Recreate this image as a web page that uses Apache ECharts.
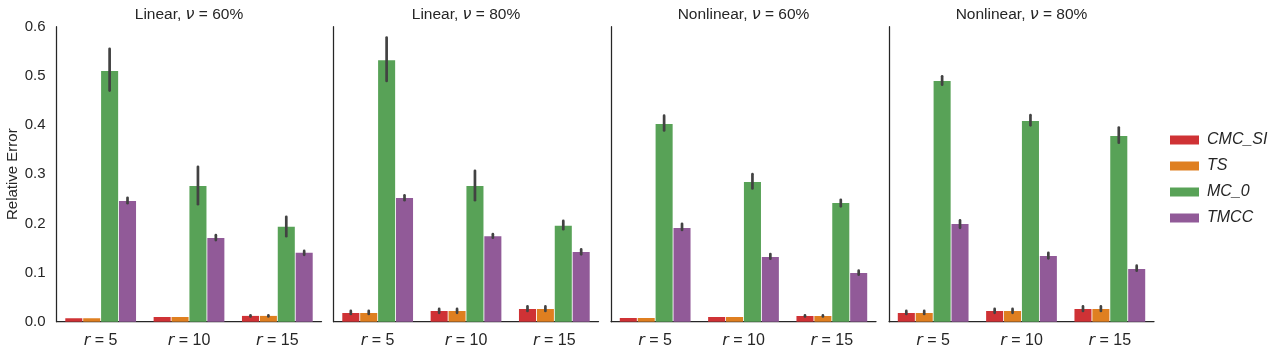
<!DOCTYPE html>
<html>
<head>
<meta charset="utf-8">
<script src="https://cdn.jsdelivr.net/npm/echarts@6/dist/echarts.min.js"></script>
<style>
  html, body { margin: 0; padding: 0; background: #fff; }
  #chart { width: 1276px; height: 355px; }
</style>
</head>
<body>
<div id="chart"></div>
<script>
// categories and methods
const categories = ["5", "10", "15"];
const methods = ["CMC_SI", "TS", "MC_0", "TMCC"];
const colors = ["#cf3235", "#df7f20", "#58a257", "#915a98"];
const yTicks = [0, 0.1, 0.2, 0.3, 0.4, 0.5, 0.6];

// rows = methods (CMC_SI, TS, MC_0, TMCC), cols = r = 5, 10, 15
const lin60Mean = [[0.007, 0.0096, 0.0118], [0.007, 0.0096, 0.0118], [0.510, 0.276, 0.193], [0.2455, 0.170, 0.140]];
const lin60Lo   = [[0.007, 0.0096, 0.0108], [0.007, 0.0096, 0.0108], [0.470, 0.239, 0.174], [0.241, 0.166, 0.136]];
const lin60Hi   = [[0.007, 0.0096, 0.0130], [0.007, 0.0096, 0.0130], [0.555, 0.315, 0.2135], [0.252, 0.176, 0.144]];

const lin80Mean = [[0.0177, 0.0218, 0.0258], [0.0177, 0.0218, 0.0258], [0.532, 0.276, 0.195], [0.2516, 0.174, 0.1418]];
const lin80Lo   = [[0.0157, 0.018, 0.022], [0.0157, 0.018, 0.022], [0.4896, 0.247, 0.188], [0.247, 0.171, 0.137]];
const lin80Hi   = [[0.022, 0.026, 0.031], [0.022, 0.026, 0.031], [0.578, 0.307, 0.205], [0.257, 0.178, 0.147]];

const non60Mean = [[0.0075, 0.0096, 0.0116], [0.0075, 0.0096, 0.0116], [0.402, 0.284, 0.2414], [0.1906, 0.1316, 0.099]];
const non60Lo   = [[0.0075, 0.0096, 0.0106], [0.0075, 0.0096, 0.0106], [0.389, 0.271, 0.2347], [0.1865, 0.128, 0.0956]];
const non60Hi   = [[0.0075, 0.0096, 0.0128], [0.0075, 0.0096, 0.0128], [0.419, 0.300, 0.248], [0.199, 0.1377, 0.1037]];

const non80Mean = [[0.0177, 0.0218, 0.0258], [0.0177, 0.0218, 0.0258], [0.4896, 0.408, 0.3777], [0.1987, 0.1336, 0.107]];
const non80Lo   = [[0.0157, 0.018, 0.022], [0.0157, 0.018, 0.022], [0.482, 0.3995, 0.364], [0.191, 0.129, 0.1037]];
const non80Hi   = [[0.022, 0.026, 0.031], [0.022, 0.026, 0.031], [0.499, 0.420, 0.395], [0.206, 0.140, 0.114]];

const panels = [
  { model: "Linear", nu: "60%", mean: lin60Mean, lo: lin60Lo, hi: lin60Hi },
  { model: "Linear", nu: "80%", mean: lin80Mean, lo: lin80Lo, hi: lin80Hi },
  { model: "Nonlinear", nu: "60%", mean: non60Mean, lo: non60Lo, hi: non60Hi },
  { model: "Nonlinear", nu: "80%", mean: non80Mean, lo: non80Lo, hi: non80Hi }
];

const gridLeft = [56.5, 333.5, 611, 889];
const gridW = 265;
const gridTop = 26.7;
const gridH = 295;
const barW = 0.193;   // share of a category band
const barGap = 0.05;  // share of a bar width
const ink = "#262626";
const font = "'Liberation Sans', Arial, sans-serif";

const chart = echarts.init(document.getElementById("chart"), null, { renderer: "canvas" });

const grids = [], xAxes = [], yAxes = [], titles = [], series = [];

panels.forEach((p, i) => {
  grids.push({ left: gridLeft[i], top: gridTop, width: gridW, height: gridH });
  titles.push({
    text: "{n|" + p.model + ", }{v|ν}{n| = " + p.nu + "}",
    left: gridLeft[i] + gridW / 2,
    top: 7,
    padding: 0,
    textAlign: "center",
    textStyle: {
      fontWeight: "normal",
      rich: {
        n: { fontFamily: font, fontSize: 15.5, fontWeight: "normal", color: ink },
        v: { fontFamily: "DejaVu Sans", fontStyle: "italic", fontWeight: "normal", fontSize: 16, color: ink }
      }
    }
  });
  xAxes.push({
    type: "category",
    gridIndex: i,
    data: categories,
    axisLine: { lineStyle: { color: ink, width: 1.25 } },
    axisTick: { show: false },
    axisLabel: {
      margin: 11,
      formatter: v => "{i|r}{n| = " + v + "}",
      rich: {
        i: { fontFamily: "DejaVu Sans", fontStyle: "italic", fontSize: 16, color: ink },
        n: { fontFamily: font, fontSize: 16, color: ink }
      }
    }
  });
  yAxes.push({
    type: "value",
    gridIndex: i,
    min: 0,
    max: 0.6,
    interval: 0.1,
    splitLine: { show: false },
    axisLine: { show: true, lineStyle: { color: ink, width: 1.25 } },
    axisTick: { show: false },
    axisLabel: {
      show: i === 0,
      margin: 11,
      fontFamily: font,
      fontSize: 15,
      color: ink,
      formatter: v => v.toFixed(1)
    },
    name: i === 0 ? "Relative Error" : "",
    nameLocation: "middle",
    nameRotate: 90,
    nameGap: 35,
    nameTextStyle: { fontFamily: font, fontSize: 15, color: ink }
  });

  methods.forEach((m, k) => {
    series.push({
      name: m,
      type: "bar",
      xAxisIndex: i,
      yAxisIndex: i,
      barWidth: barW * 100 + "%",
      barGap: barGap * 100 + "%",
      itemStyle: { color: colors[k] },
      data: p.mean[k]
    });
  });

  const errData = [];
  methods.forEach((m, k) => {
    categories.forEach((c, j) => {
      errData.push([j, k, p.lo[k][j], p.hi[k][j]]);
    });
  });
  series.push({
    type: "custom",
    xAxisIndex: i,
    yAxisIndex: i,
    silent: true,
    z: 10,
    encode: { x: 0, y: [2, 3] },
    data: errData,
    renderItem: (params, api) => {
      const lo = api.value(2), hi = api.value(3);
      if (hi - lo < 1e-9) return;
      const band = api.size([1, 0])[0];
      const dx = (api.value(1) - 1.5) * band * barW * (1 + barGap);
      const a = api.coord([api.value(0), lo]);
      const b = api.coord([api.value(0), hi]);
      return {
        type: "line",
        shape: { x1: a[0] + dx, y1: a[1], x2: b[0] + dx, y2: b[1] },
        style: { stroke: "#424242", lineWidth: 2.7, lineCap: "round" }
      };
    }
  });
});

chart.setOption({
  animation: false,
  backgroundColor: "#fff",
  title: titles,
  grid: grids,
  xAxis: xAxes,
  yAxis: yAxes,
  legend: {
    data: methods,
    orient: "vertical",
    left: 1165,
    top: 125,
    icon: "rect",
    itemWidth: 29,
    itemHeight: 9,
    itemGap: 6,
    itemStyle: { borderWidth: 0 },
    textStyle: {
      fontFamily: font,
      fontStyle: "italic",
      fontSize: 16,
      lineHeight: 20,
      color: ink,
      padding: [0, 0, 0, 3]
    }
  },
  series: series
});
</script>
</body>
</html>
